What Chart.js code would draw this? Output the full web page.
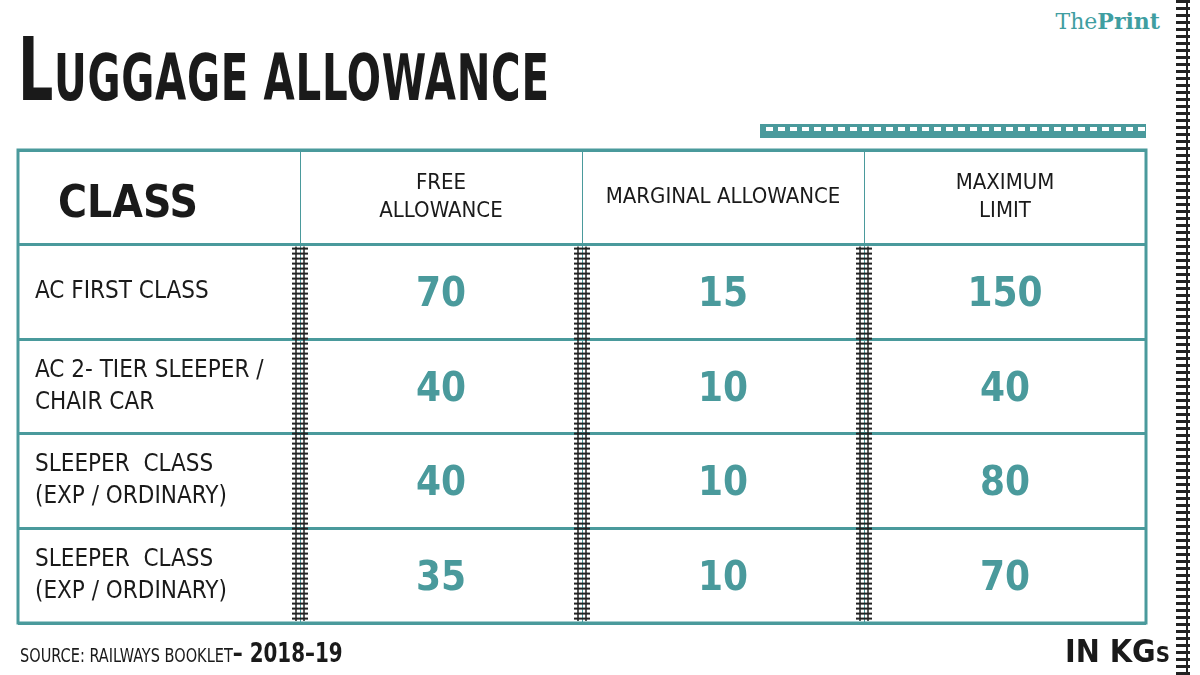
<!DOCTYPE html>
<html lang="en">
<head>
<meta charset="UTF-8">
<title>Luggage allowance</title>
<script src="https://cdn.jsdelivr.net/npm/chart.js@4.4.1/dist/chart.umd.min.js"></script>
<style>
  body { margin: 0; width: 1200px; height: 675px; background: #fff; position: relative; overflow: hidden;
         font-family: 'DejaVu Sans Condensed', sans-serif; }
  #wrap { position: absolute; left: 0; top: 0; width: 1200px; height: 675px; }
  .title { position: absolute; left: 18px; top: 18px; font-size: 64px; font-weight: bold; color: #1a1a1a;
           font-family: 'DejaVu Sans Condensed', sans-serif; letter-spacing: 1px;
           transform: scaleX(0.7); transform-origin: left top; white-space: nowrap; }
  .title .big { font-size: 88px; }
  .logo { position: absolute; right: 40px; top: 8px; font-size: 22px; color: #3f9ea1; font-family: 'DejaVu Serif', serif; }
  .logo b { font-weight: bold; }
  .src { position: absolute; left: 20px; top: 638px; font-size: 19px; color: #1a1a1a;
         transform: scaleX(0.85); transform-origin: left top; white-space: nowrap; }
  .src b { font-size: 26px; }
  .unit { position: absolute; right: 30px; top: 632px; font-size: 32px; font-weight: bold; color: #1a1a1a; }
  .unit small { font-size: 22px; }
</style>
</head>
<body>
<div class="title"><span class="big">L</span>UGGAGE ALLOWANCE</div>
<div class="logo">The<b>Print</b></div>
<div id="wrap"><canvas id="c" width="1200" height="675"></canvas></div>
<div class="src">SOURCE: RAILWAYS BOOKLET<b>– 2018–19</b></div>
<div class="unit">IN KG<small>S</small></div>
<script>
const columns = ['CLASS', 'FREE\nALLOWANCE', 'MARGINAL ALLOWANCE', 'MAXIMUM\nLIMIT'];
const rowsHead = ['HEAD', 'AC FIRST CLASS', 'AC 2- TIER SLEEPER /\nCHAIR CAR', 'SLEEPER  CLASS\n(EXP / ORDINARY)', 'SLEEPER  CLASS\n(EXP / ORDINARY) '];
const freeAllowance = [70, 40, 40, 35];
const marginalAllowance = [15, 10, 10, 10];
const maximumLimit = [150, 40, 80, 70];

const TEAL = '#4a9a9c';
const FONT = "'DejaVu Sans Condensed', sans-serif";

const points = [];
rowsHead.slice(1).forEach((r, i) => {
  points.push({ x: columns[1], y: r, v: freeAllowance[i] });
  points.push({ x: columns[2], y: r, v: marginalAllowance[i] });
  points.push({ x: columns[3], y: r, v: maximumLimit[i] });
});

function lines(ctx, text, x, y, lh) {
  const ls = text.trim().split('\n');
  ls.forEach((l, i) => ctx.fillText(l, x, y + (i - (ls.length - 1) / 2) * lh));
}

function track(ctx, x, y0, y1) {
  ctx.save();
  ctx.strokeStyle = '#222'; ctx.lineWidth = 1.5;
  ctx.beginPath();
  ctx.moveTo(x - 4, y0); ctx.lineTo(x - 4, y1);
  ctx.moveTo(x + 4, y0); ctx.lineTo(x + 4, y1);
  ctx.stroke();
  ctx.lineWidth = 2;
  for (let y = y0 + 2; y < y1; y += 5) {
    ctx.beginPath(); ctx.moveTo(x - 8, y); ctx.lineTo(x + 8, y); ctx.stroke();
  }
  ctx.restore();
}

const tablePlugin = {
  id: 'table',
  afterDraw(chart) {
    const ctx = chart.ctx, xs = chart.scales.x, ys = chart.scales.y, a = chart.chartArea;
    const rowH = ys.getPixelForValue(1) - ys.getPixelForValue(0);
    const colW = xs.getPixelForValue(1) - xs.getPixelForValue(0);
    for (let c = 0; c < 3; c++) {
      const x = xs.getPixelForValue(c) + colW / 2;
      track(ctx, x, ys.getPixelForValue(1) - rowH / 2 + 2, a.bottom - 2);
    }
    ctx.fillStyle = '#222';
    for (let y = 0; y < 675; y += 7) ctx.fillRect(1176, y, 14, 3);
    ctx.fillRect(1186, 0, 2, 675);
    ctx.fillStyle = TEAL;
    ctx.fillRect(760, 124, 386, 14);
    ctx.fillStyle = '#fff';
    for (let x = 766; x < 1140; x += 12) ctx.fillRect(x, 127, 7, 4);
    ctx.strokeStyle = TEAL; ctx.lineWidth = 3;
    ctx.strokeRect(a.left, a.top, a.right - a.left, a.bottom - a.top);
    ctx.fillStyle = '#1a1a1a'; ctx.textBaseline = 'middle';
    const hy = ys.getPixelForValue(0);
    ctx.font = `bold 44px ${FONT}`; ctx.textAlign = 'left';
    ctx.fillText('CLASS', a.left + 40, hy + 8);
    ctx.font = `22px ${FONT}`; ctx.textAlign = 'center';
    for (let c = 1; c < 4; c++) lines(ctx, columns[c], xs.getPixelForValue(c), hy, 28);
    ctx.textAlign = 'left'; ctx.font = `24px ${FONT}`;
    for (let r = 1; r < rowsHead.length; r++) lines(ctx, rowsHead[r], a.left + 17, ys.getPixelForValue(r), 32);
    ctx.fillStyle = TEAL; ctx.textAlign = 'center'; ctx.font = `bold 40px ${FONT}`;
    chart.getDatasetMeta(0).data.forEach((el, i) => ctx.fillText(points[i].v, el.x, el.y + 4));
  }
};

new Chart(document.getElementById('c'), {
  type: 'scatter',
  data: { datasets: [{ data: points, pointRadius: 0 }] },
  options: {
    responsive: false, animation: false,
    layout: { padding: { left: 18, right: 54, top: 150, bottom: 52 } },
    plugins: { legend: { display: false }, tooltip: { enabled: false } },
    scales: {
      x: { type: 'category', labels: columns, offset: true,
           grid: { offset: true, color: TEAL, lineWidth: 1, drawTicks: false },
           border: { display: false }, ticks: { display: false } },
      y: { type: 'category', labels: rowsHead, offset: true,
           grid: { offset: true, color: TEAL, lineWidth: 3, drawTicks: false },
           border: { display: false }, ticks: { display: false } }
    }
  },
  plugins: [tablePlugin]
});
</script>
</body>
</html>
